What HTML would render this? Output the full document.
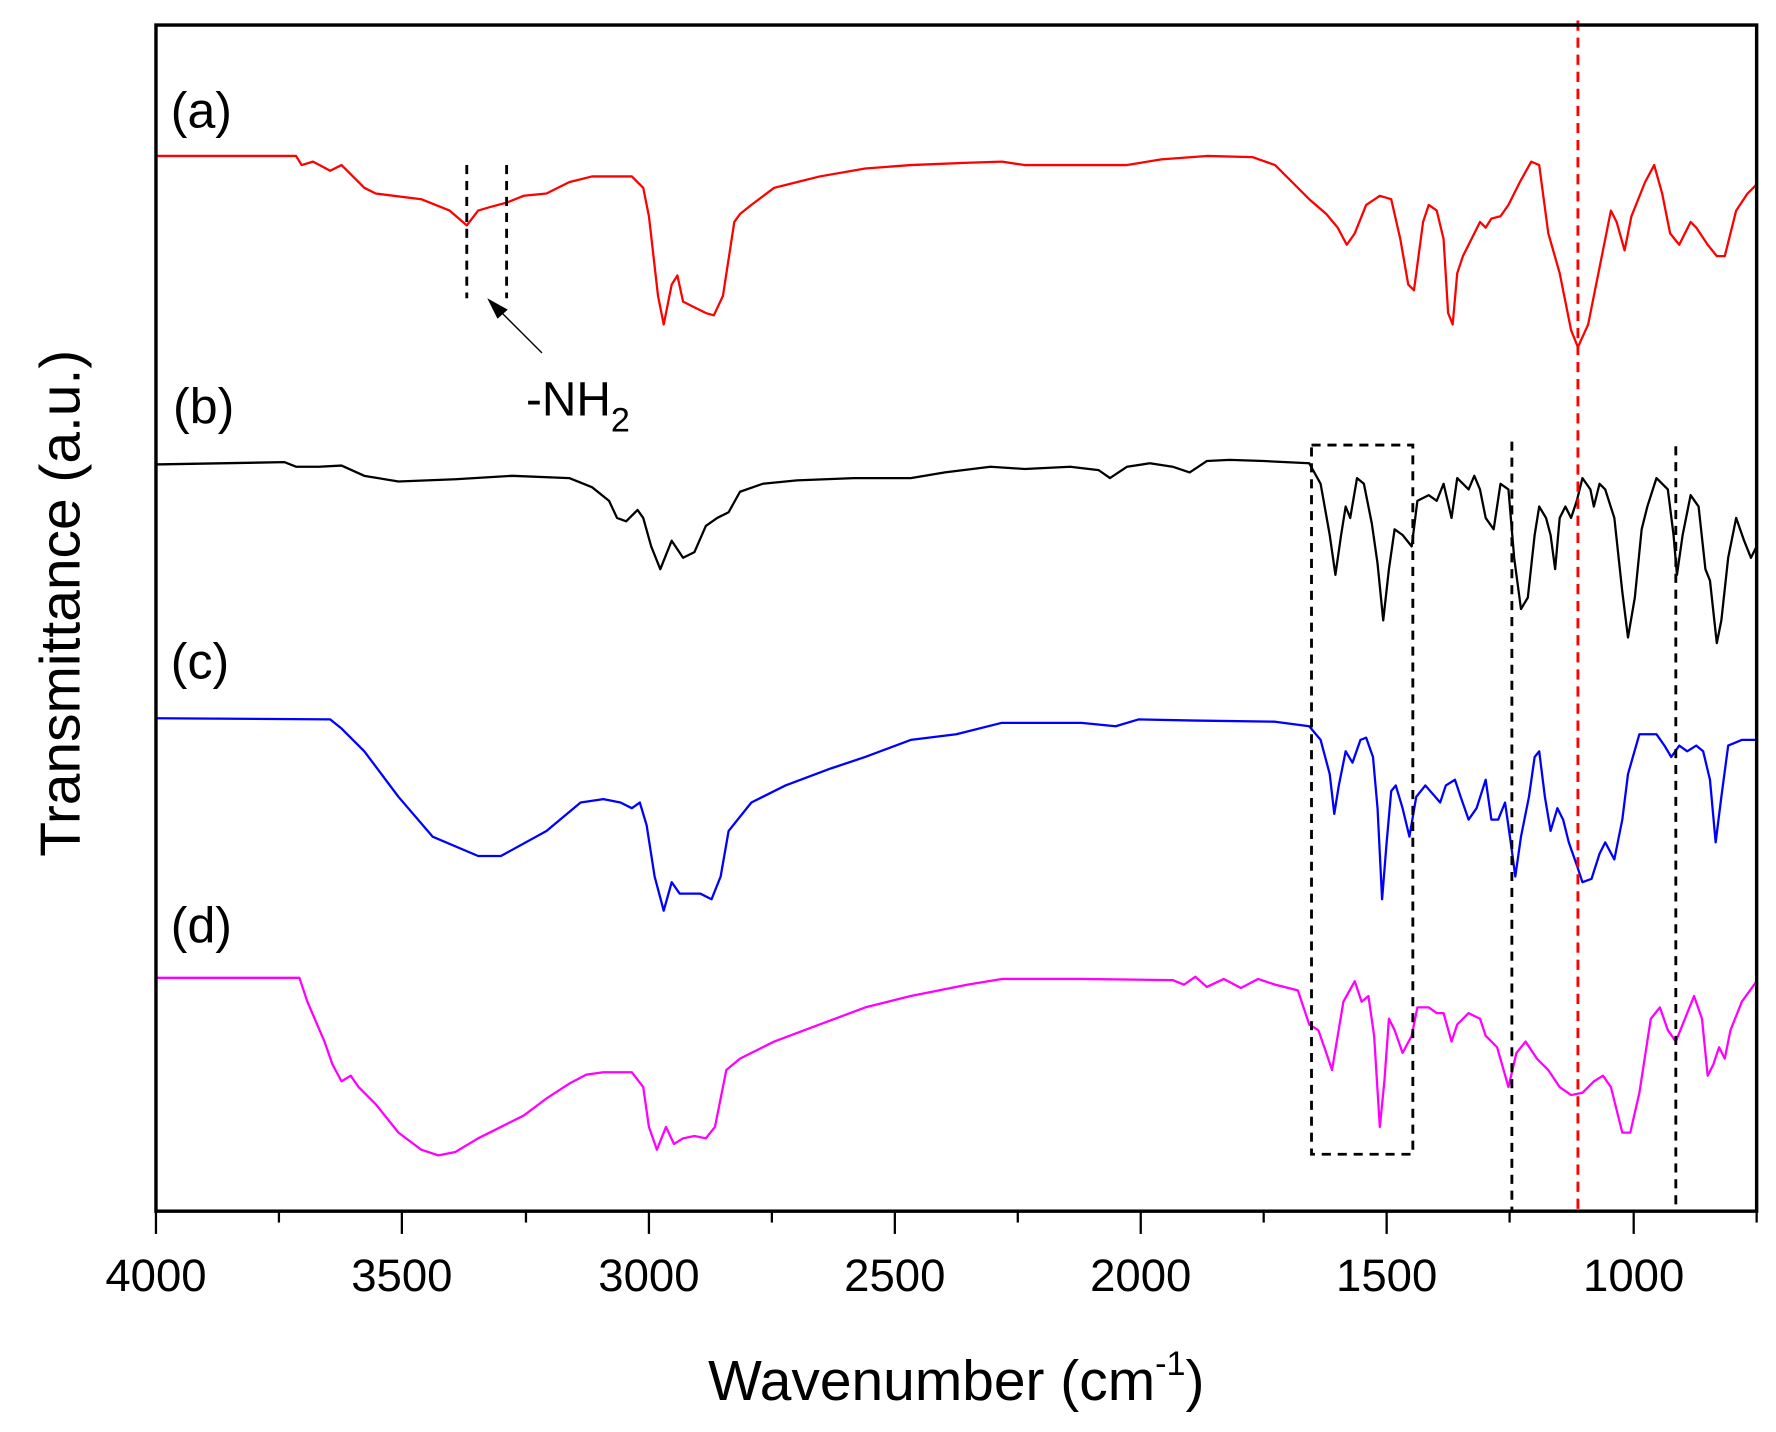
<!DOCTYPE html>
<html><head><meta charset="utf-8"><style>html,body{margin:0;padding:0;background:#fff}svg{display:block}</style></head><body>
<svg width="1776" height="1432" viewBox="0 0 1560 1258" preserveAspectRatio="none" xmlns="http://www.w3.org/2000/svg" font-family="Liberation Sans, Arial, sans-serif">
<rect x="0" y="0" width="1560" height="1258" fill="#fff"/>
<g fill="none" stroke-width="2" stroke-linejoin="round">
<polyline stroke="#ff0000" points="137,137 260,137 265,145 275,142 290,150 300,145 320,165 330,170 370,175 395,185 410,198 420,185 430,182 445,178 460,172 480,170 500,160 520,155 555,155 565,165 570,190 578,260 583,285 590,250 595,242 600,265 610,270 620,275 627,277 635,260 645,195 650,188 660,180 680,165 700,160 720,155 760,148 800,145 850,143 880,142 900,145 950,145 990,145 1020,140 1060,137 1100,138 1120,145 1135,160 1150,175 1165,188 1175,200 1183,215 1190,205 1200,180 1212,172 1222,175 1230,210 1237,250 1242,255 1250,195 1255,180 1262,185 1268,210 1272,275 1276,285 1280,240 1285,225 1295,205 1300,195 1305,200 1310,192 1318,190 1325,180 1335,160 1345,142 1352,145 1360,205 1370,240 1380,290 1386,305 1395,285 1405,235 1415,185 1420,195 1427,220 1433,190 1445,160 1453,145 1460,170 1467,205 1475,215 1485,195 1490,200 1500,215 1508,225 1515,225 1525,185 1535,170 1543,162"/>
<polyline stroke="#000" points="137,408 250,406 260,410 280,410 300,409 320,418 350,423 400,421 450,418 500,420 520,428 535,440 542,455 550,458 560,448 565,455 572,480 580,500 590,475 600,490 610,485 620,462 630,455 640,450 650,432 670,425 700,422 750,420 800,420 830,415 870,410 900,412 940,410 965,413 975,420 990,410 1010,407 1030,410 1045,415 1060,405 1080,404 1110,405 1150,407 1160,425 1168,470 1173,505 1178,470 1182,445 1186,455 1192,420 1198,425 1205,460 1210,495 1215,545 1220,500 1225,465 1232,470 1240,480 1245,440 1255,435 1262,440 1268,425 1275,455 1280,420 1290,430 1295,418 1300,430 1305,455 1312,465 1318,425 1325,430 1330,490 1336,535 1342,525 1348,470 1352,445 1358,455 1362,470 1366,500 1370,455 1375,445 1380,455 1385,440 1390,420 1397,430 1400,445 1405,425 1410,430 1418,455 1425,520 1430,560 1436,525 1442,465 1447,445 1455,420 1465,430 1470,470 1473,505 1478,470 1485,435 1492,445 1498,500 1502,510 1508,565 1512,545 1518,490 1525,455 1532,475 1538,490 1543,480"/>
<polyline stroke="#0000ff" points="137,631 290,632 300,640 320,660 350,700 380,735 420,752 440,752 480,730 510,705 530,702 545,705 555,710 562,705 568,725 575,770 583,800 590,775 597,785 605,785 615,785 625,790 633,770 640,730 660,705 690,690 730,675 760,665 800,650 840,645 880,635 950,635 980,638 1000,632 1050,633 1120,634 1150,638 1160,650 1168,680 1172,715 1176,690 1182,660 1188,670 1195,650 1200,648 1206,665 1210,710 1214,790 1218,740 1222,695 1226,690 1232,710 1238,735 1244,700 1252,690 1265,705 1270,690 1278,685 1283,700 1290,720 1297,710 1305,685 1310,720 1316,720 1322,705 1327,740 1331,770 1336,735 1343,700 1348,665 1352,660 1357,700 1362,730 1368,710 1373,720 1378,740 1385,760 1390,775 1398,772 1405,750 1410,740 1418,755 1425,720 1430,680 1440,645 1455,645 1462,655 1468,665 1475,655 1482,660 1490,655 1496,660 1502,685 1507,740 1512,700 1518,655 1530,650 1543,650"/>
<polyline stroke="#ff00ff" points="137,859 263,859 270,880 285,915 292,935 300,950 308,945 315,955 330,970 350,995 370,1010 385,1015 400,1012 420,1000 440,990 460,980 480,965 500,952 515,944 530,942 555,942 565,955 570,990 577,1010 585,990 592,1005 600,1000 610,998 620,1000 628,990 638,940 650,930 680,915 720,900 760,885 800,875 850,865 880,860 950,860 1030,861 1040,865 1050,858 1060,867 1075,860 1090,868 1105,860 1120,865 1140,870 1150,900 1158,905 1165,925 1170,940 1175,910 1180,880 1190,862 1196,880 1202,875 1207,910 1212,990 1216,950 1220,895 1225,905 1232,925 1240,910 1245,885 1255,885 1262,890 1268,890 1275,915 1280,900 1290,890 1300,895 1305,910 1315,920 1325,955 1332,925 1340,915 1350,930 1360,940 1370,955 1380,962 1390,960 1400,950 1408,945 1415,955 1420,975 1425,995 1432,995 1440,960 1450,895 1458,885 1465,905 1472,915 1480,895 1488,875 1495,895 1500,945 1505,935 1510,920 1515,930 1520,905 1530,880 1543,862"/>
</g>
<g stroke="#000" stroke-width="2.5" stroke-dasharray="8,6" fill="none">
<line x1="410" y1="145" x2="410" y2="262"/>
<line x1="445" y1="145" x2="445" y2="262"/>
<rect x="1152" y="391" width="89" height="623"/>
<line x1="1328" y1="388" x2="1328" y2="1063"/>
<line x1="1472" y1="392" x2="1472" y2="1063"/>
</g>
<line x1="1386" y1="18" x2="1386" y2="1063" stroke="#ff0000" stroke-width="2.5" stroke-dasharray="9,6"/>
<line x1="476" y1="310" x2="434" y2="268" stroke="#000" stroke-width="1.2"/>
<polygon points="428,262 446,272 437,280" fill="#000"/>
<g fill="none" stroke="#000">
<rect x="137" y="22" width="1406" height="1042" stroke-width="3"/>
</g>
<g stroke="#000" stroke-width="2">
<line x1="137" y1="1064" x2="137" y2="1084"/><line x1="353" y1="1064" x2="353" y2="1084"/><line x1="570" y1="1064" x2="570" y2="1084"/><line x1="786" y1="1064" x2="786" y2="1084"/><line x1="1002" y1="1064" x2="1002" y2="1084"/><line x1="1218" y1="1064" x2="1218" y2="1084"/><line x1="1435" y1="1064" x2="1435" y2="1084"/>
<line x1="245" y1="1064" x2="245" y2="1074"/><line x1="462" y1="1064" x2="462" y2="1074"/><line x1="678" y1="1064" x2="678" y2="1074"/><line x1="894" y1="1064" x2="894" y2="1074"/><line x1="1110" y1="1064" x2="1110" y2="1074"/><line x1="1326" y1="1064" x2="1326" y2="1074"/><line x1="1543" y1="1064" x2="1543" y2="1074"/>
</g>
<g font-size="40" text-anchor="middle" fill="#000">
<text x="137" y="1134">4000</text><text x="353" y="1134">3500</text><text x="570" y="1134">3000</text><text x="786" y="1134">2500</text><text x="1002" y="1134">2000</text><text x="1218" y="1134">1500</text><text x="1435" y="1134">1000</text>
</g>
<text x="840" y="1230" font-size="50" text-anchor="middle">Wavenumber (cm<tspan font-size="30" dy="-22">-1</tspan><tspan dy="22">)</tspan></text>
<text transform="translate(70,530) rotate(-90)" font-size="50" text-anchor="middle">Transmittance (a.u.)</text>
<g font-size="44" fill="#000">
<text x="150" y="112">(a)</text><text x="152" y="372">(b)</text><text x="150" y="596">(c)</text><text x="150" y="828">(d)</text>
</g>
<text x="462" y="365" font-size="42">-NH<tspan font-size="30" dy="14">2</tspan></text>
</svg>
</body></html>
